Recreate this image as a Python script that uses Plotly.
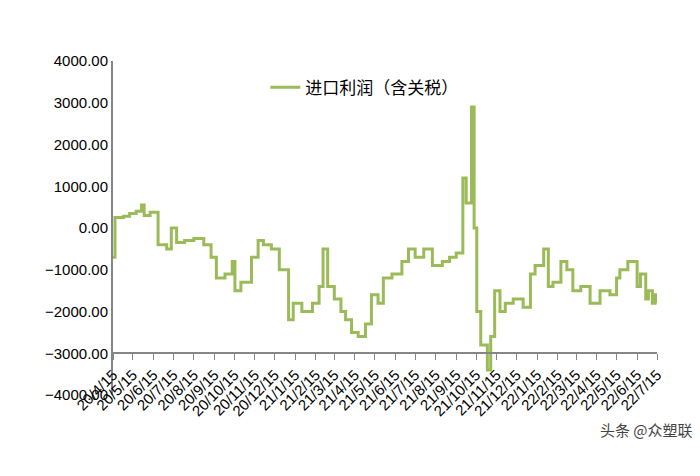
import pandas as pd
import plotly.graph_objects as go

# step-like series of import profit
dates = ["2020-04-15", "2020-04-18", "2020-05-01", "2020-05-10", "2020-05-20", "2020-05-28",
         "2020-06-01", "2020-06-10", "2020-06-22", "2020-07-05", "2020-07-12", "2020-07-20",
         "2020-08-01", "2020-08-15", "2020-08-30", "2020-09-10", "2020-09-18", "2020-10-01",
         "2020-10-12", "2020-10-16", "2020-10-25", "2020-11-10", "2020-11-20", "2020-11-28",
         "2020-12-10", "2020-12-22", "2021-01-05", "2021-01-12", "2021-01-25", "2021-02-10",
         "2021-02-20", "2021-02-26", "2021-03-05", "2021-03-15", "2021-03-25", "2021-04-01",
         "2021-04-10", "2021-04-20", "2021-05-01", "2021-05-10", "2021-05-20", "2021-05-28",
         "2021-06-10", "2021-06-25", "2021-07-05", "2021-07-15", "2021-07-28", "2021-08-10",
         "2021-08-25", "2021-09-05", "2021-09-15", "2021-09-25", "2021-09-30", "2021-10-08",
         "2021-10-12", "2021-10-16", "2021-10-22", "2021-11-01", "2021-11-06", "2021-11-12",
         "2021-11-20", "2021-11-28", "2021-12-10", "2021-12-25", "2022-01-05", "2022-01-12",
         "2022-01-25", "2022-02-01", "2022-02-08", "2022-02-20", "2022-03-01", "2022-03-10",
         "2022-03-22", "2022-04-05", "2022-04-20", "2022-05-05", "2022-05-15", "2022-05-20",
         "2022-06-01", "2022-06-15", "2022-06-20", "2022-06-28", "2022-07-02", "2022-07-08",
         "2022-07-12", "2022-07-15"]
profit = [-700, 250, 280, 350, 400, 550,
          300, 380, -400, -500, 0, -350,
          -300, -250, -400, -700, -1200, -1100,
          -800, -1500, -1300, -700, -300, -400,
          -500, -1000, -2200, -1800, -2000, -1800,
          -1400, -500, -1400, -1700, -2000, -2200,
          -2500, -2600, -2300, -1600, -1800, -1200,
          -1100, -800, -500, -700, -500, -900,
          -800, -700, -600, 1200, 600, 2900,
          0, -2000, -2800, -3400, -2600, -1500,
          -2000, -1800, -1700, -1900, -1100, -900,
          -500, -1400, -1300, -800, -1000, -1500,
          -1400, -1800, -1500, -1600, -1200, -1000,
          -800, -1400, -1100, -1700, -1500, -1800,
          -1600, -1800]

tick_dates = pd.date_range("2020-04-01", "2022-07-15", freq="MS") + pd.Timedelta(days=14)
tick_text = [f"{d.year % 100}/{d.month}/15" for d in tick_dates]

fig = go.Figure()
fig.add_trace(go.Scatter(x=pd.to_datetime(dates), y=profit, mode="lines", line_shape="hv",
                         line=dict(color="#9bbb59", width=3), name="进口利润（含关税）"))

fig.update_layout(
    width=700, height=476, plot_bgcolor="white", paper_bgcolor="white",
    margin=dict(l=105, r=51, t=53, b=89, autoexpand=False),
    font=dict(family="Liberation Sans, Noto Sans CJK SC", size=15, color="black"),
    legend=dict(x=0.28, y=0.92, xanchor="left", yanchor="middle", font=dict(size=17),
                bgcolor="rgba(0,0,0,0)"),
    showlegend=True,
)
fig.update_xaxes(type="date", range=["2020-04-15", "2022-07-15"], tickvals=tick_dates,
                 ticktext=tick_text, tickangle=-45, showgrid=False, showline=True,
                 linecolor="#868686", linewidth=2, ticks="outside", ticklen=6, tickcolor="#868686",
                 anchor="free", position=0.125, automargin=False)
fig.update_yaxes(range=[-4000, 4000], dtick=1000, tickformat=".2f", showgrid=False,
                 showline=True, linecolor="#868686", linewidth=2, zeroline=False, automargin=False)
fig.add_annotation(text="头条 @众塑联", xref="paper", yref="paper", x=1.07, y=-0.14,
                   xanchor="right", showarrow=False,
                   font=dict(size=15, color="#444", family="Noto Sans CJK SC"))
fig.write_html("out.html")
